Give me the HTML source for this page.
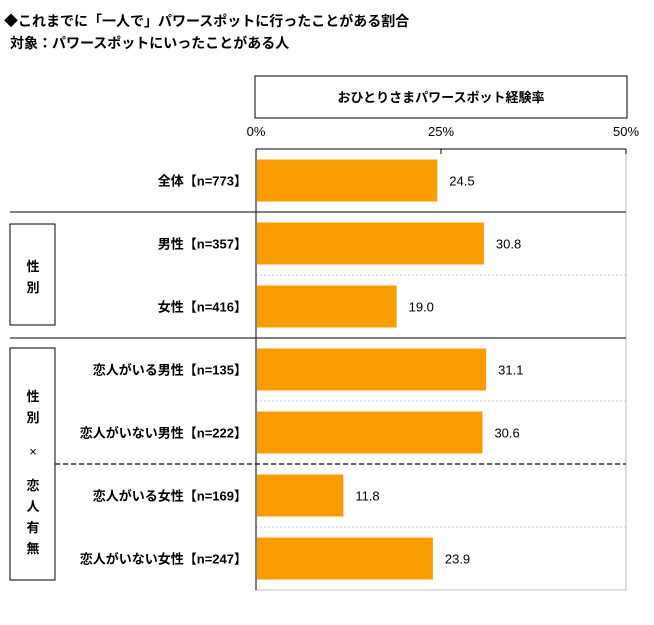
<!DOCTYPE html>
<html><head><meta charset="utf-8"><style>
body{margin:0;background:#fff;width:654px;height:620px;overflow:hidden;font-family:"Liberation Sans","Noto Sans CJK JP",sans-serif;}
</style></head><body>
<svg width="654" height="620" xmlns="http://www.w3.org/2000/svg" style="font-family:'Liberation Sans','Noto Sans CJK JP',sans-serif" id="chart">
<text x="4" y="26" font-size="14" font-weight="bold" fill="#000">◆これまでに「一人で」パワースポットに行ったことがある割合</text>
<text x="10" y="48" font-size="14" font-weight="bold" fill="#000">対象：パワースポットにいったことがある人</text>
<rect x="255" y="76" width="372" height="42" fill="#fff" stroke="#000" stroke-width="1"/>
<text x="441" y="102" font-size="13" font-weight="bold" text-anchor="middle">おひとりさまパワースポット経験率</text>
<rect x="10" y="224" width="45" height="101" fill="#fff" stroke="#000"/>
<text x="33" y="271" font-size="13" font-weight="bold" text-anchor="middle">性</text>
<text x="33" y="292" font-size="13" font-weight="bold" text-anchor="middle">別</text>
<rect x="10" y="348" width="45" height="232" fill="#fff" stroke="#000"/>
<g font-size="13" font-weight="bold" text-anchor="middle">
<text x="33" y="401">性</text><text x="33" y="422">別</text><text x="33" y="456" font-weight="normal">×</text>
<text x="33" y="490">恋</text><text x="33" y="511">人</text><text x="33" y="532">有</text><text x="33" y="553">無</text>
</g>
<g id="plot"></g>
</svg>
<script>
const categories=["全体【n=773】","男性【n=357】","女性【n=416】","恋人がいる男性【n=135】","恋人がいない男性【n=222】","恋人がいる女性【n=169】","恋人がいない女性【n=247】"];
const values=[24.5,30.8,19.0,31.1,30.6,11.8,23.9];
const valueLabels=["24.5","30.8","19.0","31.1","30.6","11.8","23.9"];
const ticks=[0,25,50];
const tickLabels=["0%","25%","50%"];
{
const NS="http://www.w3.org/2000/svg";
const g=document.getElementById("plot");
const x0=256,x1=626,plotTop=149,rowH=63,barH=42;
const xs=v=>x0+(v/50)*(x1-x0);
const ys=i=>plotTop+i*rowH;
function mk(t,a){const e=document.createElementNS(NS,t);for(const k in a)e.setAttribute(k,a[k]);g.appendChild(e);return e;}
const bottom=ys(categories.length);
let f=mk("rect",{x:x0,y:plotTop,width:x1-x0,height:bottom-plotTop,fill:"none",stroke:"#bbb"});


for(let i=1;i<categories.length;i++){
  let y=ys(i);
  let l;
  if(i===1||i===3){l=mk("line",{x1:10,y1:y,x2:x1,y2:y,stroke:"#555","stroke-width":1.5});}
  else if(i===5){l=mk("line",{x1:55,y1:y,x2:x1,y2:y,stroke:"#333","stroke-width":1.5,"stroke-dasharray":"5,3"});}
  else{l=mk("line",{x1:x0,y1:y,x2:x1,y2:y,stroke:"#ccc","stroke-dasharray":"2,2"});}
  
}
ticks.forEach((t,i)=>{
  let tx=mk("text",{x:xs(t),y:136,"font-size":13,"text-anchor":"middle"});
  tx.textContent=tickLabels[i];
  
  
  let tl=mk("line",{x1:xs(t),y1:plotTop,x2:xs(t),y2:plotTop+5,stroke:"#000"});
  
  
});
let ax=mk("line",{x1:x0,y1:plotTop,x2:x1,y2:plotTop,stroke:"#000"});


let ay=mk("line",{x1:x0,y1:plotTop,x2:x0,y2:bottom,stroke:"#000"});


categories.forEach((c,i)=>{
  const yc=ys(i)+rowH/2;
  let b=mk("rect",{x:x0+1,y:yc-barH/2,width:xs(values[i])-x0-1,height:barH,fill:"#f99c00"});
  
  
  let v=mk("text",{x:xs(values[i])+12,y:yc+5,"font-size":13});
  v.textContent=valueLabels[i];
  
  
  let lb=mk("text",{x:247,y:yc+5,"font-size":13,"font-weight":"bold","text-anchor":"end"});
  lb.textContent=c;
  
  
});
}
</script>
</body></html>
